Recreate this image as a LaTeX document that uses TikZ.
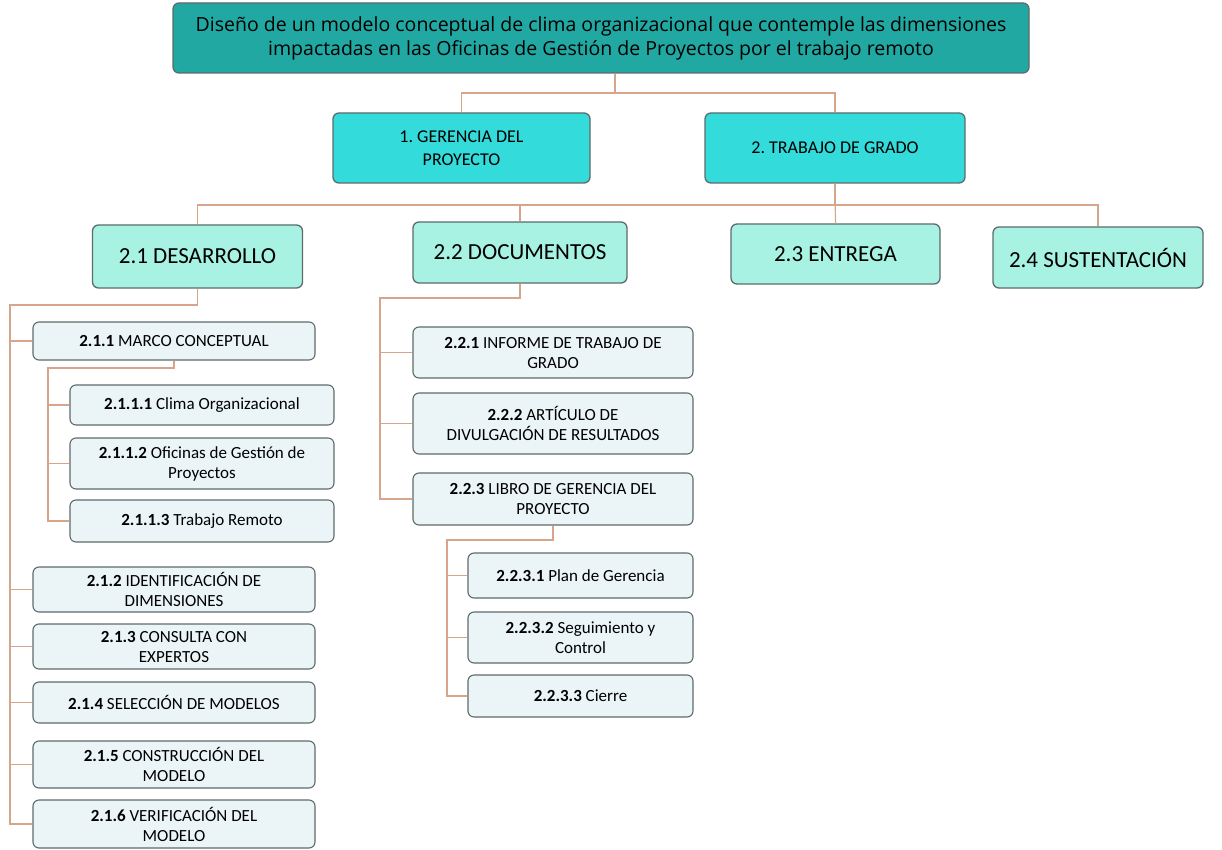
\documentclass[tikz,border=0pt]{standalone}
\usepackage{fontspec}
\setmainfont{Carlito}
\newfontfamily\titlefont{Open Sans}
\usetikzlibrary{positioning, calc}
\frenchspacing
\definecolor{tealdark}{HTML}{22A8A2}
\definecolor{cyanbox}{HTML}{33DCDA}
\definecolor{aquabox}{HTML}{A8F2E3}
\definecolor{palebox}{HTML}{EBF5F8}
\definecolor{boxline}{HTML}{5E6B6A}
\definecolor{linkline}{HTML}{D6A58B}
\newcommand{\wbsno}[1]{\textbf{#1}}
\tikzset{box/.style = {draw=boxline, line width=1.3pt, rounded corners=6pt, align=center, inner sep=2pt}}
\tikzset{lvl0/.style = {box, fill=tealdark, minimum width=856pt, minimum height=70pt, font=\titlefont\fontsize{19.5}{24}\selectfont}}
\tikzset{lvl1/.style = {box, fill=cyanbox, minimum height=70pt, font=\fontsize{18}{23}\selectfont}}
\tikzset{lvl2/.style = {box, fill=aquabox, minimum width=210pt, minimum height=61pt, font=\fontsize{23}{26}\selectfont}}
\tikzset{lvl3/.style = {box, fill=palebox, line width=1.1pt, font=\fontsize{17}{20}\selectfont}}
\tikzset{link/.style = {draw=linkline, line width=1.2pt}}

\begin{document}
\begin{tikzpicture}[x=1pt, y=-1pt]
  \useasboundingbox (0,0) rectangle (1222,850);
  \path (601,38) node[lvl0] (t0) {Diseño de un modelo conceptual de clima organizacional que contemple las dimensiones\\impactadas en las Oficinas de Gestión de Proyectos por el trabajo remoto}
      (461.5,148) node[lvl1, minimum width=257pt] (n1) {1. GERENCIA DEL\\PROYECTO}
      ++(373.5,0) node[lvl1, minimum width=260pt] (n2) {2. TRABAJO DE GRADO}
      (197.5,256.5) node[lvl2, minimum height=63pt] (n21) {2.1 DESARROLLO}
      ++(322.5,-4) node[lvl2, minimum width=214pt] (n22) {2.2 DOCUMENTOS}
      ++(315.5,1.5) node[lvl2, minimum width=209pt, minimum height=60pt] (n23) {2.3 ENTREGA}
      ++(262.5,3.5) node[lvl2] (n24) {2.4 SUSTENTACIÓN};

  % 2.1 desarrollo
  \tikzset{w21/.style = {lvl3, minimum width=282pt}}
  \tikzset{w211/.style = {lvl3, minimum width=264pt}}
  \path (174,341) node[w21, minimum height=38pt] (n211) {\wbsno{2.1.1} MARCO CONCEPTUAL}
      ++(28,64) node[w211, minimum height=40pt] (n2111) {\wbsno{2.1.1.1} Clima Organizacional}
      ++(0,58.5) node[w211, minimum height=51pt] (n2112) {\wbsno{2.1.1.2} Oficinas de Gestión de\\Proyectos}
      ++(0,57.5) node[w211, minimum height=42pt] (n2113) {\wbsno{2.1.1.3} Trabajo Remoto}
      (174,589.5) node[w21, minimum height=45pt] (n212) {\wbsno{2.1.2} IDENTIFICACIÓN DE\\DIMENSIONES}
      ++(0,57) node[w21, minimum height=45pt] (n213) {\wbsno{2.1.3} CONSULTA CON\\EXPERTOS}
      ++(0,56) node[w21, minimum height=41pt] (n214) {\wbsno{2.1.4} SELECCIÓN DE MODELOS}
      ++(0,62) node[w21, minimum height=47pt] (n215) {\wbsno{2.1.5} CONSTRUCCIÓN DEL\\MODELO}
      ++(0,59.5) node[w21, minimum height=48pt] (n216) {\wbsno{2.1.6} VERIFICACIÓN DEL\\MODELO};

  % 2.2 documentos
  \tikzset{w22/.style = {lvl3, minimum width=280pt}}
  \tikzset{w223/.style = {lvl3, minimum width=225pt}}
  \path (553,352.5) node[w22, minimum height=51pt] (n221) {\wbsno{2.2.1} INFORME DE TRABAJO DE\\GRADO}
      ++(0,71) node[w22, minimum height=61pt] (n222) {\wbsno{2.2.2} ARTÍCULO DE\\DIVULGACIÓN DE RESULTADOS}
      ++(0,75.5) node[w22, minimum height=52pt] (n223) {\wbsno{2.2.3} LIBRO DE GERENCIA DEL\\PROYECTO}
      ++(27.5,76.5) node[w223, minimum height=45pt] (n2231) {\wbsno{2.2.3.1} Plan de Gerencia}
      ++(0,62) node[w223, minimum height=51pt] (n2232) {\wbsno{2.2.3.2} Seguimiento y\\Control}
      ++(0,58.5) node[w223, minimum height=42pt] (n2233) {\wbsno{2.2.3.3} Cierre};

  \coordinate (c0) at (615,93);
  \coordinate (c2) at (835,205);
  \coordinate (r21) at (10,305);
  \coordinate (r211) at (48,368);
  \coordinate (r22) at (380,298);
  \coordinate (r223) at (447,540);

  \draw[link] (c0 |- t0.south) -- (c0) -| (n1.north);
  \draw[link] (c0) -| (n2.north);
  \foreach \o in {n21, n22, n24}
  {
    \draw[link] (n2.south) |- (c2) -| (\o.north);
  }
  \draw[link] (n2.south) -- (n23.north);
  \foreach \o in {n211, n212, n213, n214, n215, n216}
  {
    \draw[link] (n21.south) |- (r21) |- (\o.west);
  }
  \foreach \o in {n2111, n2112, n2113}
  {
    \draw[link] (n211.south) |- (r211) |- (\o.west);
  }
  \foreach \o in {n221, n222, n223}
  {
    \draw[link] (n22.south) |- (r22) |- (\o.west);
  }
  \foreach \o in {n2231, n2232, n2233}
  {
    \draw[link] (n223.south) |- (r223) |- (\o.west);
  }
\end{tikzpicture}
\end{document}
